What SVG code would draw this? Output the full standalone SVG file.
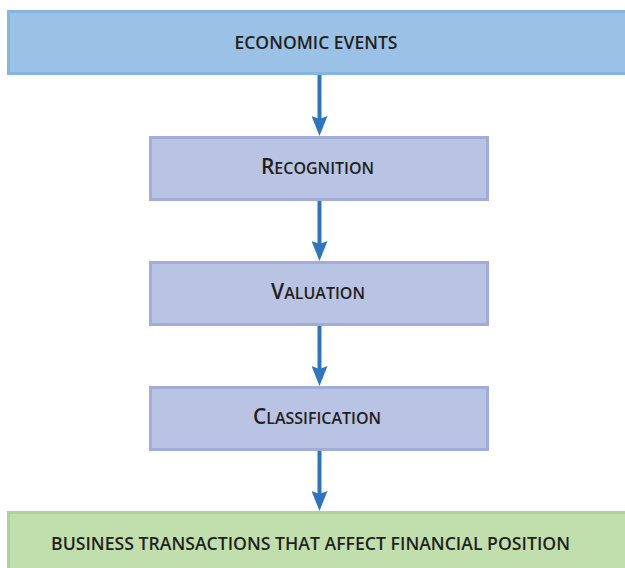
<svg xmlns="http://www.w3.org/2000/svg" width="625" height="568" viewBox="0 0 625 568">
<defs>
<style>
.t{font-family:"Open Sans","Liberation Sans",sans-serif;font-weight:600;fill:#231f20;text-anchor:middle;}
.blue{fill:#9bc1e6;stroke:#86b5e3;stroke-width:3;}
.purple{fill:#b9c3e3;stroke:#a2acda;stroke-width:3;}
.green{fill:#c1dfad;stroke:#a9d596;stroke-width:3;}
.conn{stroke:#2f75bd;stroke-width:4;fill:none;}
.sc{font-size:16px;}
</style>
<marker id="ah" markerUnits="userSpaceOnUse" markerWidth="20" markerHeight="16" refX="3" refY="8" orient="auto" viewBox="0 0 20 16">
<path d="M0,0 L20,8 L0,16 L3,8 Z" fill="#2f75bd"/>
</marker>
</defs>
<g id="economic-events">
<rect class="blue" x="8.5" y="11.5" width="620" height="62"/>
<text class="t" x="316" y="49" font-size="17.5" textLength="163" lengthAdjust="spacingAndGlyphs">ECONOMIC EVENTS</text>
</g>
<g id="recognition">
<rect class="purple" x="150.5" y="137.5" width="337" height="62"/>
<text class="t" x="317.5" y="174" font-size="21">R<tspan class="sc">ECOGNITION</tspan></text>
</g>
<g id="valuation">
<rect class="purple" x="150.5" y="262.5" width="337" height="62"/>
<text class="t" x="318" y="299" font-size="21">V<tspan class="sc">ALUATION</tspan></text>
</g>
<g id="classification">
<rect class="purple" x="150.5" y="387.5" width="337" height="62"/>
<text class="t" x="317" y="424" font-size="21">C<tspan class="sc">LASSIFICATION</tspan></text>
</g>
<g id="business-transactions">
<rect class="green" x="8.5" y="512.5" width="620" height="62"/>
<text class="t" x="310.5" y="549.5" font-size="17.5" textLength="519" lengthAdjust="spacingAndGlyphs">BUSINESS TRANSACTIONS THAT AFFECT FINANCIAL POSITION</text>
</g>
<g id="connectors">
<line class="conn" x1="319.5" y1="75" x2="319.5" y2="119" marker-end="url(#ah)"/>
<line class="conn" x1="319.5" y1="201" x2="319.5" y2="244" marker-end="url(#ah)"/>
<line class="conn" x1="319.5" y1="326" x2="319.5" y2="369" marker-end="url(#ah)"/>
<line class="conn" x1="319.5" y1="451" x2="319.5" y2="494" marker-end="url(#ah)"/>
</g>
</svg>
